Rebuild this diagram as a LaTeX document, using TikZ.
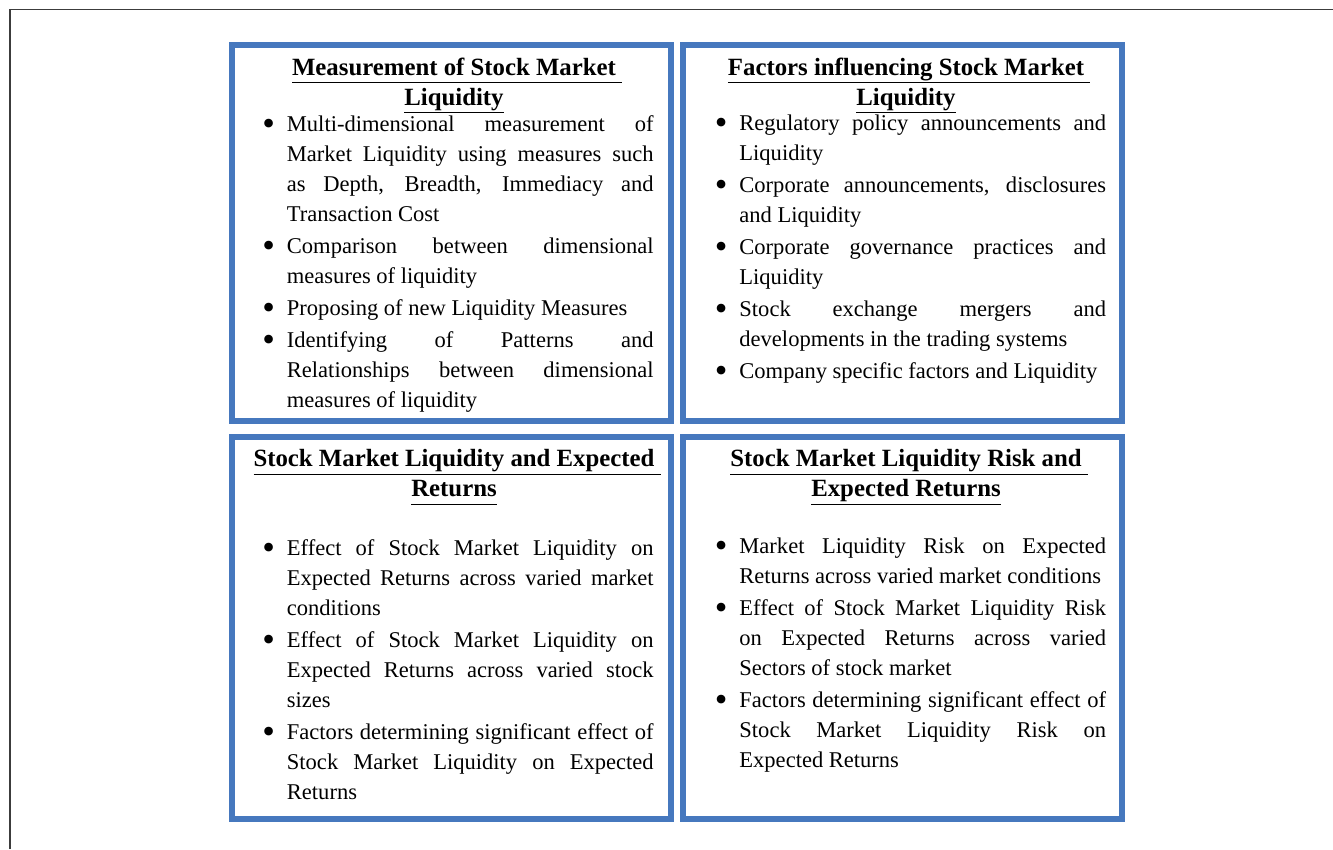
\documentclass[tikz,border=0pt]{standalone}
\usepackage{xcolor}
\usepackage{fontspec}
\setmainfont{Liberation Serif}
\usepackage{enumitem}
\usepackage{graphicx}
\usepackage{tikz}

\definecolor{panelblue}{RGB}{70,120,190}
\definecolor{framegray}{RGB}{60,60,60}

\newcommand{\uhead}[1]{\underline{\vphantom{y}#1}}
\newcommand{\utail}{\rlap{\uhead{\ }}}

\hyphenpenalty=10000
\exhyphenpenalty=10000

\setlist[itemize]{label=\raisebox{-2.9pt}{\scalebox{1.6}{\textbullet}}, leftmargin=18.5pt, labelsep=9pt, itemsep=1.5pt, topsep=0pt, parsep=0pt, partopsep=0pt}

\tikzset{
    panel/.style={draw=panelblue, line width=4.4pt, minimum width=328.9pt, inner sep=0pt},
    headtext/.style={anchor=north, inner sep=0pt, align=center, font=\fontsize{18.6pt}{22.5pt}\selectfont\bfseries},
    listtext/.style={anchor=north west, inner sep=0pt, text width=293.5pt, align=justify, font=\fontsize{16.9pt}{22.5pt}\selectfont}
}

\begin{document}
\begin{tikzpicture}[x=0.75pt,y=0.75pt,yscale=-1,xscale=1]

        \useasboundingbox (0,0) rectangle (1333,849);
        \draw [framegray, line width=1.3pt] (10,849) -- (10,9.5) -- (1333,9.5) ;

        \node [panel, minimum height=282pt] (measureBox) at (451.5,233) {};
        \node [panel, minimum height=282pt] (factorBox) at (902.5,233) {};
        \node [panel, minimum height=286.5pt] (returnBox) at (451.5,628) {};
        \node [panel, minimum height=286.5pt] (riskBox) at (902.5,628) {};

        \node [headtext] (measureHead) at (454,54) {\strut\uhead{Measurement of Stock Market}\utail\\ \strut\uhead{Liquidity}};
        \node [headtext] (factorHead) at (906,54) {\strut\uhead{Factors influencing Stock Market}\utail\\ \strut\uhead{Liquidity}};
        \node [headtext] (returnHead) at (454,445.7) {\strut\uhead{Stock Market Liquidity and Expected}\utail\\ \strut\uhead{Returns}};
        \node [headtext] (riskHead) at (906,445.7) {\strut\uhead{Stock Market Liquidity Risk and}\utail\\ \strut\uhead{Expected Returns}};

        \node [listtext] (measureList) at (262,101.5) {\begin{itemize}
            \item \strut Multi-dimensional measurement of\linebreak Market Liquidity using measures such\linebreak as Depth, Breadth, Immediacy and\linebreak Transaction Cost
            \item Comparison between dimensional\linebreak measures of liquidity
            \item Proposing of new Liquidity Measures
            \item Identifying of Patterns and\linebreak Relationships between dimensional\linebreak measures of liquidity
        \end{itemize}};
        \node [listtext] (factorList) at (714.5,100.5) {\begin{itemize}
            \item \strut Regulatory policy announcements and\linebreak Liquidity
            \item Corporate announcements, disclosures\linebreak and Liquidity
            \item Corporate governance practices and\linebreak Liquidity
            \item Stock exchange mergers and\linebreak developments in the trading systems
            \item Company specific factors and Liquidity
        \end{itemize}};
        \node [listtext] (returnList) at (262,525) {\begin{itemize}
            \item \strut Effect of Stock Market Liquidity on\linebreak Expected Returns across varied market\linebreak conditions
            \item Effect of Stock Market Liquidity on\linebreak Expected Returns across varied stock\linebreak sizes
            \item Factors determining significant effect of\linebreak Stock Market Liquidity on Expected\linebreak Returns
        \end{itemize}};
        \node [listtext] (riskList) at (714.5,523.5) {\begin{itemize}
            \item \strut Market Liquidity Risk on Expected\linebreak Returns across varied market conditions
            \item Effect of Stock Market Liquidity Risk\linebreak on Expected Returns across varied\linebreak Sectors of stock market
            \item Factors determining significant effect of\linebreak Stock Market Liquidity Risk on\linebreak Expected Returns
        \end{itemize}};

    \end{tikzpicture}
\end{document}
